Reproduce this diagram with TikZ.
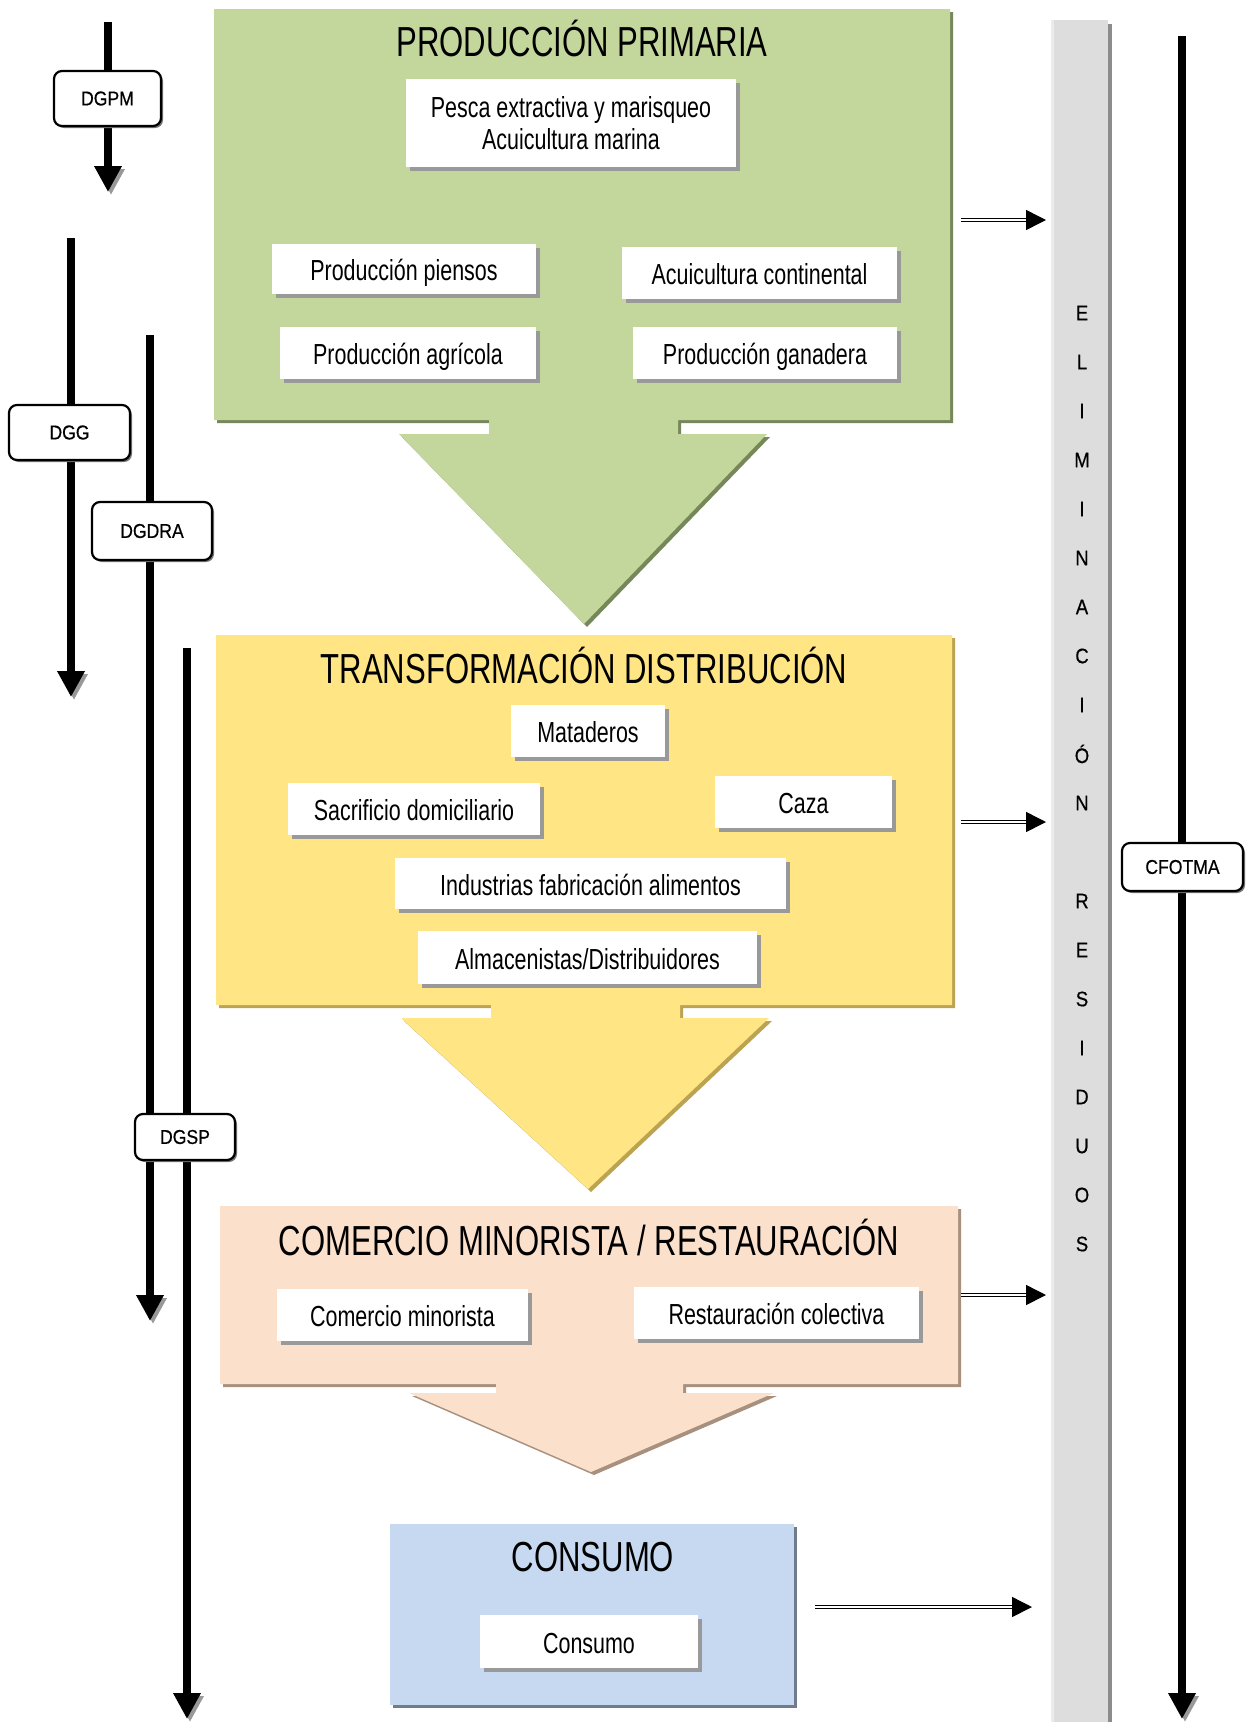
\documentclass[tikz,border=0pt]{standalone}
\usepackage{fontspec}
\setmainfont[FakeStretch=0.74]{Liberation Sans}
\newfontfamily\labfont[FakeStretch=0.88,FakeBold=0.6]{Liberation Sans}
\usetikzlibrary{arrows.meta,shadows}
\definecolor{cgreen}{HTML}{C3D69B}
\definecolor{cgreenS}{HTML}{76875A}
\definecolor{cyellow}{HTML}{FFE583}
\definecolor{cyellowS}{HTML}{BBA352}
\definecolor{cpeach}{HTML}{FBE0CB}
\definecolor{cpeachS}{HTML}{A8907F}
\definecolor{cblue}{HTML}{C6D9F0}
\definecolor{cblueS}{HTML}{6E7C8C}
\definecolor{ccol}{HTML}{DDDDDD}
\tikzset{
  blk/.style 2 args={fill=#1, preaction={fill=#2, transform canvas={xshift=3pt,yshift=-3pt}}},
  ttl/.style={font=\fontsize{42}{44}\selectfont, inner sep=0},
  ibox/.style={fill=white, inner sep=0, align=center, font=\fontsize{29}{32}\selectfont,
    drop shadow={shadow xshift=4pt, shadow yshift=-4pt, fill=black!40, opacity=1}},
  low/.style={text height=23pt, text depth=0pt},
  lbox/.style={draw=black, line width=2.2pt, rounded corners=8pt, fill=white, inner sep=0,
    font=\labfont\fontsize{20}{22}\selectfont,
    drop shadow={shadow xshift=2pt, shadow yshift=-2pt, fill=black!55, opacity=1}},
  vline/.style={line width=7.5pt, -{Triangle[length=26pt,width=26pt]},
    preaction={draw=black!40, transform canvas={xshift=3pt,yshift=-3pt}}},
  rarr/.style={draw=black, line width=1.5pt, double=white, double distance=1.3pt,
    -{Triangle[length=20pt,width=20pt]}},
  vlet/.style={font=\labfont\fontsize{21}{22}\selectfont, inner sep=0},
}
\begin{document}
\begin{tikzpicture}[x=1pt,y=-1pt]
\useasboundingbox[fill=white] (0,0) rectangle (1252,1722);

% gray column
\fill[black!8] (1051,20) rectangle (1054,1722);
\fill[ccol] (1054,20) rectangle (1108,1722);
\fill[black!45] (1108,24) rectangle (1112,1722);
\foreach \l [count=\i from 0] in {E,L,I,M,I,N,A,C,I,Ó,N}
  \node[vlet] (w\i) at (1082,313+49*\i) {\l};
\foreach \l [count=\i from 12] in {R,E,S,I,D,U,O,S}
  \node[vlet] (w\i) at (1082,313+49*\i) {\l};

% main block arrows
\path[blk={cgreen}{cgreenS}] (214,9) -- (950,9) -- (950,420) -- (678,420) -- (678,434) -- (767,434)
  -- (584,624) -- (399,434) -- (489,434) -- (489,420) -- (214,420) -- cycle;
\path[blk={cyellow}{cyellowS}] (216,635) -- (952,635) -- (952,1005) -- (680,1005) -- (680,1018) -- (769,1018)
  -- (588,1189) -- (401,1018) -- (491,1018) -- (491,1005) -- (216,1005) -- cycle;
\path[blk={cpeach}{cpeachS}] (220,1206) -- (958,1206) -- (958,1384) -- (683,1384) -- (683,1393) -- (774,1393)
  -- (591,1472) -- (409,1393) -- (496,1393) -- (496,1384) -- (220,1384) -- cycle;
\path[blk={cblue}{cblueS}] (390,1524) rectangle (794,1705);

% titles
\node[ttl] (t1) at (582,38.5) {PRODUCCIÓN PRIMARIA};
\node[ttl] (t2) at (584,665) {TRANSFORMACIÓN DISTRIBUCIÓN};
\node[ttl] (t3) at (589,1237) {COMERCIO MINORISTA / RESTAURACIÓN};
\node[ttl] (t4) at (593,1557) {CONSUMO};

% inner boxes
\node[ibox, minimum width=330, minimum height=88] (pesca) at (571,123) {Pesca extractiva y marisqueo\\Acuicultura marina};
\node[ibox, low, minimum width=264, minimum height=50] (piensos) at (404,269) {Producción piensos};
\node[ibox, low, minimum width=275, minimum height=52] (acont) at (759.5,273) {Acuicultura continental};
\node[ibox, low, minimum width=256, minimum height=52] (agric) at (408,353) {Producción agrícola};
\node[ibox, low, minimum width=264, minimum height=52] (ganad) at (765,353) {Producción ganadera};
\node[ibox, low, minimum width=154, minimum height=52] (matad) at (588,731) {Mataderos};
\node[ibox, low, minimum width=252, minimum height=52] (sacri) at (414,809) {Sacrificio domiciliario};
\node[ibox, low, minimum width=177, minimum height=52] (caza) at (803.5,802) {Caza};
\node[ibox, low, minimum width=391, minimum height=51] (indus) at (590.5,883.5) {Industrias fabricación alimentos};
\node[ibox, low, minimum width=339, minimum height=53] (almac) at (587.5,957.5) {Almacenistas/Distribuidores};
\node[ibox, low, minimum width=251, minimum height=52] (comer) at (402.5,1315) {Comercio minorista};
\node[ibox, low, minimum width=285, minimum height=52] (resta) at (776.5,1313) {Restauración colectiva};
\node[ibox, low, minimum width=218, minimum height=53] (consu) at (589,1641.5) {Consumo};

% right arrows to column
\coordinate (r1s) at (961,220);  \coordinate (r1e) at (1046,220);
\coordinate (r2s) at (961,822);  \coordinate (r2e) at (1046,822);
\coordinate (r3s) at (961,1295); \coordinate (r3e) at (1046,1295);
\coordinate (r4s) at (815,1607); \coordinate (r4e) at (1032,1607);
\draw[rarr] (r1s) -- (r1e);
\draw[rarr] (r2s) -- (r2e);
\draw[rarr] (r3s) -- (r3e);
\draw[rarr] (r4s) -- (r4e);

% vertical agency lines
\coordinate (pmS) at (108,22);   \coordinate (pmE) at (108,192);
\coordinate (ggS) at (71,238);   \coordinate (ggE) at (71,697);
\coordinate (draS) at (150,335); \coordinate (draE) at (150,1321);
\coordinate (spS) at (187,648);  \coordinate (spE) at (187,1719);
\coordinate (cfS) at (1182,36);  \coordinate (cfE) at (1182,1719);
\draw[vline] (pmS) -- (pmE);
\draw[vline] (ggS) -- (ggE);
\draw[vline] (draS) -- (draE);
\draw[vline] (spS) -- (spE);
\draw[vline] (cfS) -- (cfE);

\node[lbox, minimum width=107, minimum height=55] (dgpm) at (107.5,98.5) {DGPM};
\node[lbox, minimum width=121, minimum height=55] (dgg) at (69.5,432.5) {DGG};
\node[lbox, minimum width=120, minimum height=58] (dgdra) at (152,531) {DGDRA};
\node[lbox, minimum width=100, minimum height=46] (dgsp) at (185,1137) {DGSP};
\node[lbox, minimum width=121, minimum height=48] (cfotma) at (1182.5,867) {CFOTMA};
\end{tikzpicture}
\end{document}
